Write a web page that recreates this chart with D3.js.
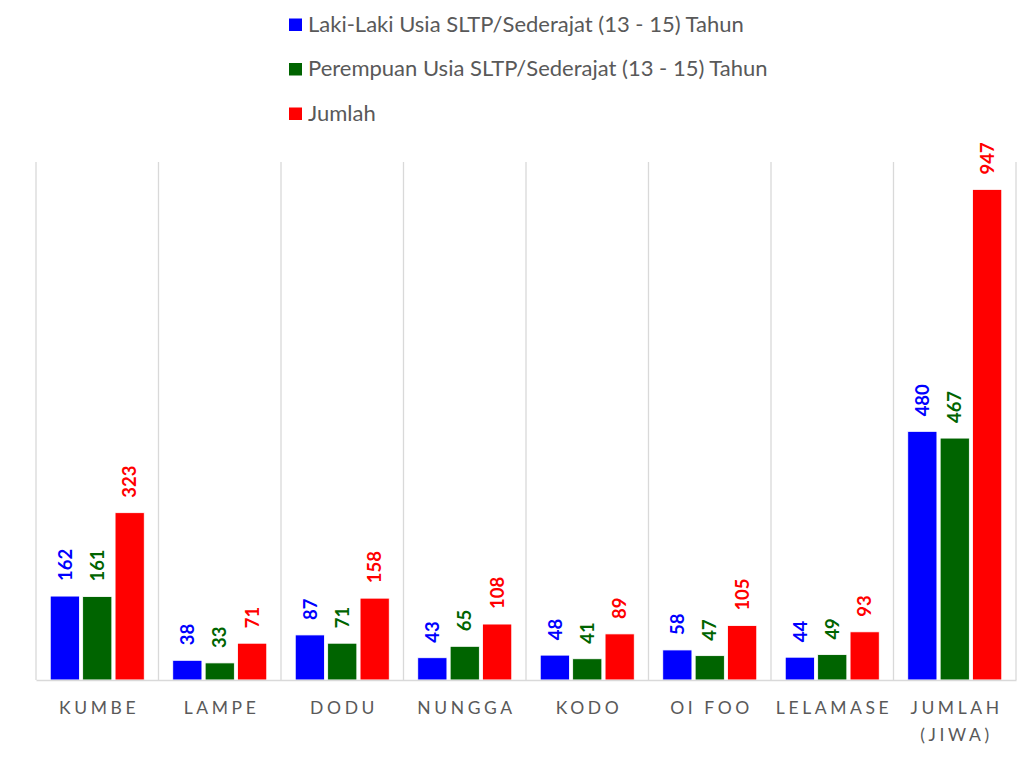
<!DOCTYPE html>
<html>
<head>
<meta charset="utf-8">
<script src="https://cdn.jsdelivr.net/npm/d3@7"></script>
<style>
  html, body { margin: 0; padding: 0; background: #fff; }
  svg { display: block; }
</style>
</head>
<body>
<svg id="chart" width="1036" height="759"></svg>
<script>
// Data: pupils of junior-high age (13-15) per village
const categories = ["KUMBE", "LAMPE", "DODU", "NUNGGA", "KODO", "OI FOO", "LELAMASE", "JUMLAH (JIWA)"];
const seriesNames = [
  "Laki-Laki Usia SLTP/Sederajat (13 - 15) Tahun",
  "Perempuan Usia SLTP/Sederajat (13 - 15) Tahun",
  "Jumlah"
];
const lakiLaki  = [162, 38, 87, 43, 48, 58, 44, 480];
const perempuan = [161, 33, 71, 65, 41, 47, 49, 467];
const jumlah    = [323, 71, 158, 108, 89, 105, 93, 947];
const seriesColors = ["#0000ff", "#006400", "#ff0000"];
const yMax = 1000;

const series = [lakiLaki, perempuan, jumlah];
const rows = categories.map((c, i) => ({ cat: c, values: series.map((s, k) => ({ k, v: s[i] })) }));

const svg = d3.select("#chart");
const plot = { left: 36, right: 1016, top: 162, bottom: 680 };

const x0 = d3.scaleBand().domain(categories).range([plot.left, plot.right]).padding(0);
const x1 = d3.scaleBand().domain(d3.range(series.length))
  .range([14.25, x0.bandwidth() - 14.25]).paddingInner(0.1);
const y = d3.scaleLinear().domain([0, yMax]).range([plot.bottom, plot.top]);

// Vertical separators between categories
const grid = svg.append("g");
const bounds = categories.map(c => x0(c)).concat([plot.right]);
grid.selectAll("line").data(bounds).join("line")
  .attr("x1", d => d).attr("x2", d => d)
  .attr("y1", plot.top).attr("y2", plot.bottom)
  .attr("stroke", "#d9d9d9").attr("stroke-width", 1.3);

// Bars
const groups = svg.append("g").selectAll("g").data(rows).join("g")
  .attr("transform", d => `translate(${x0(d.cat)},0)`);

groups.selectAll("rect").data(d => d.values).join("rect")
  .attr("x", d => x1(d.k))
  .attr("width", x1.bandwidth())
  .attr("y", d => y(d.v))
  .attr("height", d => y(0) - y(d.v))
  .attr("fill", d => seriesColors[d.k])
  .attr("stroke", "#ffffff").attr("stroke-width", 0.8);

// Value labels, rotated
groups.selectAll("text").data(d => d.values).join("text")
  .attr("transform", d => `translate(${x1(d.k) + x1.bandwidth() / 2},${y(d.v) - 15}) rotate(-90)`)
  .attr("dy", "0.36em")
  .attr("text-anchor", "start")
  .attr("font-family", "Lato, 'Liberation Sans', sans-serif")
  .attr("font-weight", "bold")
  .attr("font-size", 18.5)
  .attr("fill", d => seriesColors[d.k])
  .text(d => d.v);

// Baseline axis
const xAxis = d3.axisBottom(x0).tickSize(0).tickPadding(0);
const axisG = svg.append("g").attr("transform", `translate(0,${plot.bottom})`).call(xAxis);
axisG.select(".domain").attr("stroke", "#d9d9d9").attr("stroke-width", 1.5);
axisG.selectAll(".tick text")
  .attr("font-family", "Lato, 'Liberation Sans', sans-serif")
  .attr("font-size", 17.5)
  .attr("letter-spacing", "3.6px")
  .attr("fill", "#595959")
  .each(function () {
    // wrap long labels onto several lines
    const t = d3.select(this);
    const words = t.text().split(" ");
    const maxW = x0.bandwidth() - 6;
    t.text(null);
    let lines = [], cur = [];
    const probe = t.append("tspan");
    words.forEach(w => {
      const trial = cur.concat([w]).join(" ");
      probe.text(trial);
      if (cur.length && probe.node().getComputedTextLength() > maxW) {
        lines.push(cur.join(" "));
        cur = [w];
      } else cur.push(w);
    });
    lines.push(cur.join(" "));
    probe.remove();
    lines.forEach((ln, i) => {
      t.append("tspan").attr("x", 1.8).attr("y", 34 + i * 27).attr("dy", 0).text(ln);
    });
  });

// Legend
const legend = svg.append("g");
const legendRows = legend.selectAll("g").data(seriesNames).join("g")
  .attr("transform", (d, i) => `translate(289,${31.5 + i * 44.5})`);
legendRows.append("rect")
  .attr("x", 0).attr("y", -13).attr("width", 13).attr("height", 12.5)
  .attr("fill", (d, i) => seriesColors[i]);
legendRows.append("text")
  .attr("x", 19).attr("y", 0)
  .attr("font-family", "Lato, 'Liberation Sans', sans-serif")
  .attr("font-size", 22)
  .attr("fill", "#595959")
  .text(d => d);
</script>
</body>
</html>
